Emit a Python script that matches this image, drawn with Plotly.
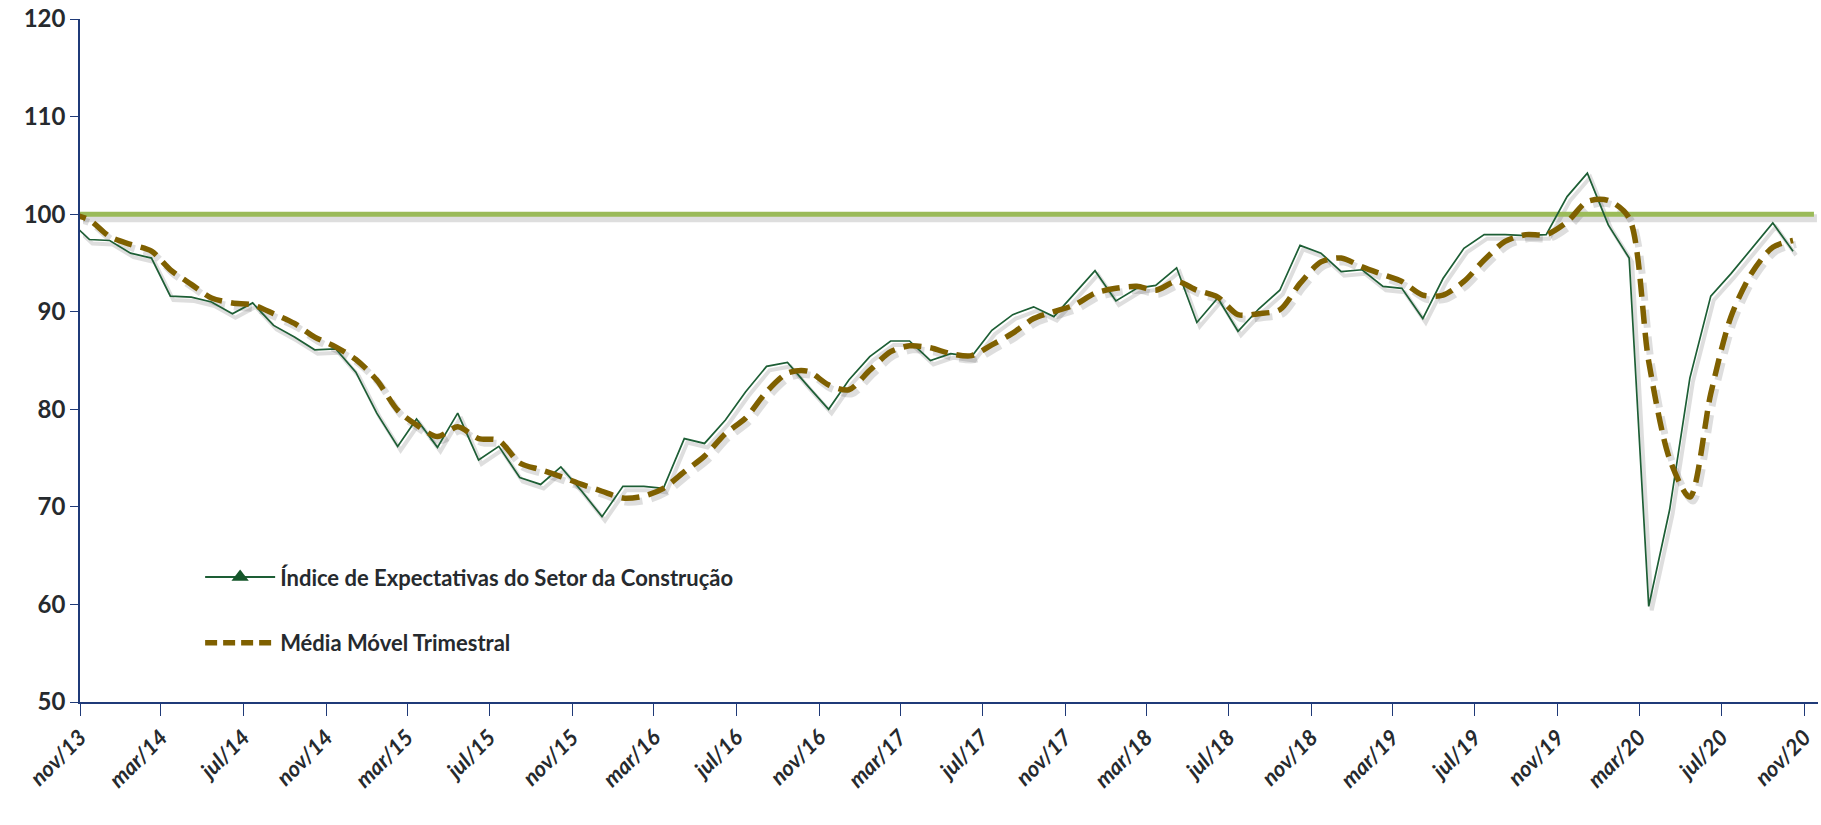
import pandas as pd
import plotly.graph_objects as go

# ========== Data ==========

# monthly points (plotted mid-month), oct/13 .. oct/20 - first one sits left of the axis and gets clipped
months = pd.date_range("2013-10-01", periods=85, freq="MS") + pd.Timedelta(days=14)
ref_months = pd.date_range("2013-10-01", periods=86, freq="MS") + pd.Timedelta(days=14)

indice = [
    99.4,
    97.4, 97.3, 96.0, 95.5, 91.6, 91.5, 91.0, 89.8, 90.9, 88.6, 87.4, 86.1,
    86.2, 83.8, 79.6, 76.2, 79.0, 76.1, 79.6, 74.8, 76.2, 73.0, 72.3, 74.1,
    71.6, 69.0, 72.1, 72.1, 71.9, 77.0, 76.5, 78.9, 81.8, 84.4, 84.8, 82.4,
    80.0, 83.0, 85.4, 87.0, 87.0, 85.0, 85.7, 85.4, 88.1, 89.7, 90.5, 89.5,
    91.9, 94.2, 91.1, 92.4, 92.7, 94.5, 88.9, 91.4, 88.0, 90.3, 92.2, 96.8,
    96.0, 94.1, 94.3, 92.6, 92.4, 89.3, 93.4, 96.5, 97.9, 97.9, 97.8, 97.9,
    101.8, 104.2, 98.9, 95.5, 59.8, 69.7, 83.2, 91.6, 93.9, 96.5, 99.1, 96.2,
]

media_movel = [
    100.1,
    99.4, 97.7, 96.9, 96.2, 94.3, 92.8, 91.4, 90.9, 90.7, 89.8, 88.8, 87.4,
    86.4, 85.1, 83.0, 79.9, 78.4, 77.2, 78.2, 77.0, 76.8, 74.5, 73.8, 73.1,
    72.3, 71.6, 70.9, 71.1, 71.9, 73.6, 75.2, 77.5, 79.1, 81.8, 83.7, 83.9,
    82.5, 82.0, 84.0, 85.9, 86.5, 86.3, 85.7, 85.5, 86.6, 87.8, 89.3, 90.0,
    90.7, 91.9, 92.4, 92.6, 92.2, 93.1, 92.2, 91.5, 89.7, 89.8, 90.2, 92.9,
    95.1, 95.5, 94.6, 93.8, 93.1, 91.7, 91.7, 93.1, 95.3, 97.2, 97.9, 97.9,
    99.2, 101.3, 101.4, 99.6, 84.9, 74.9, 71.0, 81.6, 89.5, 94.0, 96.6, 97.3,
]

referencia = [100] * len(ref_months)

tick_dates = pd.date_range("2013-11-01", "2020-11-01", freq="4MS")
tick_labels = [
    "nov/13", "mar/14", "jul/14", "nov/14", "mar/15", "jul/15", "nov/15", "mar/16",
    "jul/16", "nov/16", "mar/17", "jul/17", "nov/17", "mar/18", "jul/18", "nov/18",
    "mar/19", "jul/19", "nov/19", "mar/20", "jul/20", "nov/20",
]

# ========== Layout numbers ==========

W, H = 1821, 825
L, R, T, B = 80, 0, 19, 119
dx = 3 / (W - L - R)      # shadow offset (px -> domain fraction)
dy = 4 / (H - T - B)
x_range = ["2013-11-01", "2020-11-21"]
y_range = [50, 120]

GREEN = "#1D5E35"
OLIVE = "#7F6000"
REF = "#9BBB59"
NAVY = "#1F3A78"
TXT = "#262A2E"
SHADOW = "rgba(0,0,0,0.13)"
FONT = "Lato"

fig = go.Figure()

# shadows (lower subplot, shifted a few px right/down)
fig.add_trace(go.Scatter(x=ref_months, y=referencia, mode="lines", xaxis="x", yaxis="y",
                         line=dict(color=SHADOW, width=8), showlegend=False, hoverinfo="skip"))
fig.add_trace(go.Scatter(x=months, y=indice, mode="lines", xaxis="x", yaxis="y",
                         line=dict(color=SHADOW, width=4), showlegend=False, hoverinfo="skip"))
fig.add_trace(go.Scatter(x=months, y=media_movel, mode="lines", xaxis="x", yaxis="y",
                         line=dict(color=SHADOW, width=7, dash="18px,9px", shape="spline", smoothing=0.8),
                         showlegend=False, hoverinfo="skip"))

# main series
fig.add_trace(go.Scatter(x=ref_months, y=referencia, mode="lines", xaxis="x2", yaxis="y2",
                         line=dict(color=REF, width=5), showlegend=False))
fig.add_trace(go.Scatter(x=months, y=indice, mode="lines", xaxis="x2", yaxis="y2",
                         line=dict(color=GREEN, width=1.7), showlegend=False))
fig.add_trace(go.Scatter(x=months, y=media_movel, mode="lines", xaxis="x2", yaxis="y2",
                         line=dict(color=OLIVE, width=5.5, dash="18px,9px", shape="spline", smoothing=0.8),
                         showlegend=False))

# legend entries
fig.add_trace(go.Scatter(x=[None], y=[None], mode="lines+markers", xaxis="x2", yaxis="y2",
                         name="Índice de Expectativas do Setor da Construção", legendgroup="a",
                         line=dict(color=GREEN, width=2),
                         marker=dict(symbol="triangle-up", size=15, color="#15562A")))
fig.add_trace(go.Scatter(x=[None], y=[None], mode="lines", xaxis="x2", yaxis="y2",
                         name="Média Móvel Trimestral", legendgroup="b",
                         line=dict(color=OLIVE, width=5.5, dash="12px,6px")))

hidden = dict(visible=False, showgrid=False, zeroline=False)

fig.update_layout(
    width=W,
    height=H,
    margin=dict(l=L, r=R, t=T, b=B),
    paper_bgcolor="white",
    plot_bgcolor="rgba(0,0,0,0)",
    font=dict(family=FONT, color=TXT),
    xaxis=dict(type="date", range=x_range, domain=[dx, 1], anchor="y", **hidden),
    yaxis=dict(range=y_range, domain=[0, 1 - dy], anchor="x", **hidden),
    xaxis2=dict(
        type="date", range=x_range, domain=[0, 1 - dx], anchor="y2",
        tickvals=tick_dates, ticktext=tick_labels, tickangle=-45,
        tickfont=dict(family=FONT, size=22, weight="bold", style="italic", color=TXT),
        showline=True, linecolor=NAVY, linewidth=1.5,
        ticks="outside", ticklen=12, tickcolor=NAVY, tickwidth=1.3,
        showgrid=False, zeroline=False,
    ),
    yaxis2=dict(
        range=y_range, domain=[dy, 1], anchor="x2",
        tickvals=[50, 60, 70, 80, 90, 100, 110, 120],
        tickfont=dict(family=FONT, size=24, weight="bold", color=TXT),
        showline=True, linecolor=NAVY, linewidth=1.5,
        ticks="outside", ticklen=8, tickcolor=NAVY, tickwidth=1.3,
        showgrid=False, zeroline=False,
    ),
    showlegend=True,
    legend=dict(
        x=0.069, y=0.218, xanchor="left", yanchor="top",
        bgcolor="rgba(0,0,0,0)",
        font=dict(family=FONT, size=22, weight="bold", color=TXT),
        tracegroupgap=34, itemwidth=70,
    ),
)

fig.write_html("out.html", config={"displayModeBar": False},
               post_script="document.body.style.margin='0';")
